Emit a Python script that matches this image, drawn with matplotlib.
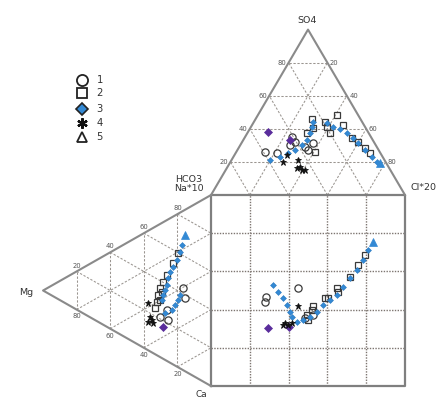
import numpy as np
import matplotlib
matplotlib.use("Agg")
import matplotlib.pyplot as plt

# ---- Durov diagram data --------------------------------------------------
# Anion triangle (top): (Cl %, SO4 %)
TOP_S1 = [(14.7, 26.2), (21.3, 25.2), (24.0, 35.3), (25.6, 30.2), (33.9, 29.2),
          (36.4, 27.2), (36.8, 31.6), (27.2, 32.2)]
TOP_S2 = [(29.0, 45.8), (32.3, 40.5), (36.6, 44.3), (39.0, 41.3), (42.7, 37.3),
          (40.6, 48.4), (46.9, 42.3), (55.3, 34.5), (59.7, 32.2), (65.2, 28.4),
          (69.3, 25.4), (40.5, 26.2), (30.7, 37.3)]
TOP_S3 = [(19.8, 21.2), (24.0, 23.2), (27.2, 25.2), (29.7, 27.2), (31.7, 30.2),
          (32.7, 33.2), (32.3, 37.5), (31.3, 41.3), (30.6, 44.3), (38.0, 43.3),
          (42.3, 41.3), (46.6, 39.9), (51.2, 37.5), (56.0, 34.5), (60.1, 31.4),
          (65.8, 27.2), (71.2, 23.2), (75.4, 20.1)]
TOP_S3B = [(10.6, 37.9), (24.1, 33.2)]
TOP_S4 = [(26.9, 24.2), (27.1, 20.1), (34.2, 21.2), (37.3, 17.1), (39.2, 15.1),
          (40.9, 15.1), (36.0, 16.3)]
TOP_S5 = [(77.5, 19.3)]

# Cation triangle (left): (Mg %, Na %)
LEFT_S1 = [(16.5, 42.9), (15.5, 38.2), (26.3, 26.6), (25.4, 21.9), (30.4, 21.1)]
LEFT_S2 = [(19.5, 60.0), (22.4, 53.0), (26.3, 45.0), (28.4, 40.4), (30.4, 36.0),
           (29.3, 34.7), (31.4, 31.9), (32.3, 28.0), (33.4, 24.0), (30.4, 29.8)]
LEFT_S3 = [(17.4, 65.1), (18.5, 61.1), (20.4, 55.8), (22.4, 51.3), (24.4, 47.6),
           (25.4, 43.7), (26.3, 39.8), (27.4, 36.6), (28.4, 33.4), (29.3, 30.4),
           (27.4, 24.5), (23.4, 28.1), (21.5, 31.7), (19.6, 35.2), (18.5, 38.4)]
LEFT_S3B = [(28.4, 16.8)]
LEFT_S4 = [(37.3, 24.6), (36.3, 18.1), (35.3, 17.0), (37.3, 15.0), (34.5, 15.7)]
LEFT_S5 = [(15.5, 71.3)]

# Central square: (anion axis %, cation axis %)
SQ_S1 = [(45.0, 51.2), (28.4, 46.8), (27.8, 44.1), (48.5, 35.4), (52.7, 37.2)]
SQ_S2 = [(79.4, 68.6), (75.9, 63.4), (71.6, 56.9), (65.6, 49.4), (64.8, 51.2),
         (60.5, 46.2), (58.8, 45.9), (52.7, 41.9), (51.9, 39.8), (49.3, 37.2),
         (50.2, 34.6)]
SQ_S3 = [(32.1, 52.9), (34.7, 49.4), (37.3, 45.9), (39.0, 42.4), (40.7, 38.9),
         (41.6, 36.3), (44.2, 33.7), (47.6, 34.6), (51.0, 36.3), (54.5, 38.9),
         (57.9, 42.4), (61.3, 45.0), (64.8, 47.6), (68.2, 52.0), (71.6, 56.4),
         (75.1, 60.7), (78.5, 66.0), (81.1, 71.2)]
SQ_S3B = [(29.5, 30.2), (40.4, 31.0)]
SQ_S4 = [(45.0, 41.9), (38.1, 32.8), (39.8, 31.9), (37.3, 31.9), (41.8, 33.0)]
SQ_S5 = [(83.7, 75.5)]

TICKS = [20, 40, 60, 80]
LEGEND_LABELS = ["1", "2", "3", "4", "5"]

H = np.sqrt(3) / 2

# ---- coordinate transforms ----------------------------------------------
def top_xy(pts):
    a = np.asarray(pts, float)
    cl, so4 = a[:, 0], a[:, 1]
    return cl + so4 / 2, 100 + so4 * H


def left_xy(pts):
    a = np.asarray(pts, float)
    mg, na = a[:, 0], a[:, 1]
    return -mg * H, na + mg / 2


def sq_xy(pts):
    a = np.asarray(pts, float)
    return a[:, 0], a[:, 1]


# ---- figure ---------------------------------------------------------------
fig = plt.figure(figsize=(4.37, 3.99), dpi=100)
ax = fig.add_axes([0, 0, 1, 1])
ax.set_xlim(-108.8, 116.5)
ax.set_ylim(-6.8, 202.1)
ax.axis("off")

OUT = "#8a8a8a"
GRID = "#9a9590"
SQGRID = "#7d7570"
grid_kw = dict(color=GRID, lw=0.75, ls=(0, (2.2, 1.6)), zorder=1)
sq_grid_kw = dict(color=SQGRID, lw=1.0, ls=(0, (1.0, 1.0)), zorder=1)

# square grid
for t in TICKS:
    ax.plot([t, t], [0, 100], **sq_grid_kw)
    ax.plot([0, 100], [t, t], **sq_grid_kw)

# top triangle grid
for t in TICKS:
    # constant SO4
    ax.plot([t / 2, 100 - t / 2], [100 + t * H, 100 + t * H], **grid_kw)
    # constant Cl
    s = 100 - t
    ax.plot([t, t + s / 2], [100, 100 + s * H], **grid_kw)
    # constant HCO3
    ax.plot([100 - t, (100 - t) / 2], [100, 100 + (100 - t) * H], **grid_kw)

# left triangle grid
for t in TICKS:
    # constant Mg
    ax.plot([-t * H, -t * H], [t / 2, 100 - t / 2], **grid_kw)
    # constant Na
    ax.plot([-(100 - t) * H, 0], [t + (100 - t) / 2, t], **grid_kw)
    # constant Ca
    ax.plot([-(100 - t) * H, 0], [(100 - t) / 2, 100 - t], **grid_kw)

# outlines
ax.plot([0, 100, 100, 0, 0], [0, 0, 100, 100, 0], color="#7f7f7f", lw=1.6, zorder=2)
ax.plot([0, 50, 100], [100, 100 + 100 * H, 100], color=OUT, lw=1.5, zorder=2)
ax.plot([0, -100 * H, 0], [100, 50, 0], color=OUT, lw=1.5, zorder=2)

# tick labels
tk = dict(fontsize=4.9, color="#555555", zorder=3)
for t in TICKS:
    y = 100 + t * H
    ax.text(t / 2 - 1.2, y, str(t), ha="right", va="center", **tk)
    ax.text(100 - t / 2 + 1.2, y, str(100 - t), ha="left", va="center", **tk)
    x = -t * H
    ax.text(x, 100 - t / 2 + 1.5, str(100 - t), ha="center", va="bottom", **tk)
    ax.text(x, t / 2 - 2.0, str(t), ha="center", va="top", **tk)

# axis names
nm = dict(fontsize=6.8, color="#333333", zorder=3)
ax.text(49.5, 191.6, "SO4", ha="center", va="center", **nm)
ax.text(102.6, 103.7, "Cl*20", ha="left", va="center", **nm)
ax.text(-11.3, 105.6, "HCO3\nNa*10", ha="center", va="center", linespacing=1.05, **nm)
ax.text(-95.4, 49.2, "Mg", ha="center", va="center", **nm)
ax.text(-5.2, -4.2, "Ca", ha="center", va="center", fontsize=6.4, color="#333333")

# ---- samples --------------------------------------------------------------
BLUE = "#3389d4"
PURPLE = "#5a2d9c"
DARK = "#3a3a3a"


def draw(xy, kind):
    x, y = xy
    if kind == 1:
        ax.plot(x, y, "o", ms=5.2, mfc="none", mec=DARK, mew=0.9, zorder=4)
    elif kind == 2:
        ax.plot(x, y, "s", ms=4.8, mfc="none", mec=DARK, mew=0.9, zorder=4)
    elif kind == 3:
        ax.plot(x, y, "D", ms=3.0, mfc=BLUE, mec="#2a78bf", mew=0.4, zorder=5)
    elif kind == 33:
        ax.plot(x, y, "D", ms=4.2, mfc=PURPLE, mec=PURPLE, mew=0.5, zorder=6)
    elif kind == 4:
        ax.plot(x, y, "*", ms=4.6, mfc="#111111", mec="#111111", mew=0.6, zorder=6)
    elif kind == 5:
        ax.plot(x, y, "^", ms=5.5, mfc=BLUE, mec=BLUE, mew=0.5, zorder=6)


for pts, k in [(TOP_S1, 1), (TOP_S2, 2), (TOP_S3, 3), (TOP_S3B, 33), (TOP_S4, 4), (TOP_S5, 5)]:
    draw(top_xy(pts), k)
for pts, k in [(LEFT_S1, 1), (LEFT_S2, 2), (LEFT_S3, 3), (LEFT_S3B, 33), (LEFT_S4, 4), (LEFT_S5, 5)]:
    draw(left_xy(pts), k)
for pts, k in [(SQ_S1, 1), (SQ_S2, 2), (SQ_S3, 3), (SQ_S3B, 33), (SQ_S4, 4), (SQ_S5, 5)]:
    draw(sq_xy(pts), k)

# ---- legend ---------------------------------------------------------------
leg_y = [160.2, 153.2, 145.0, 137.5, 130.2]
leg_marker = [
    dict(marker="o", ms=8.0, mfc="white", mec="#222222", mew=1.3),
    dict(marker="s", ms=7.2, mfc="white", mec="#222222", mew=1.3),
    dict(marker="D", ms=6.2, mfc=BLUE, mec="#222222", mew=1.2),
    dict(marker=(6, 2, 0), ms=7.5, mfc="#111111", mec="#111111", mew=1.6),
    dict(marker="^", ms=7.8, mfc="white", mec="#222222", mew=1.3),
]
for y, mk, lab in zip(leg_y, leg_marker, LEGEND_LABELS):
    ax.plot([-66.5], [y], ls="none", zorder=6, **mk)
    ax.text(-59.0, y, lab, ha="left", va="center", fontsize=7.2, color="#333333")

fig.savefig("out.png", dpi=100)
